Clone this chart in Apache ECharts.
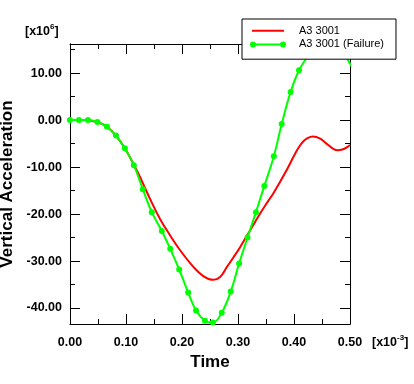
<!DOCTYPE html>
<html>
<head>
<meta charset="utf-8">
<script src="https://cdn.jsdelivr.net/npm/echarts@6/dist/echarts.min.js"></script>
<style>
html,body{margin:0;padding:0;background:#fff;}
#c{width:414px;height:384px;}
</style>
</head>
<body>
<div id="c"></div>
<script>
// Data (time in 1e-3 units, acceleration in 1e6 units)
const redTime  = [0, 0.02, 0.04, 0.05, 0.066, 0.082, 0.098, 0.114, 0.125, 0.143, 0.161, 0.178, 0.196, 0.220, 0.238, 0.256, 0.268, 0.280, 0.292, 0.304, 0.321, 0.339, 0.354, 0.363, 0.387, 0.400, 0.408, 0.416, 0.425, 0.434, 0.446, 0.458, 0.470, 0.479, 0.490, 0.500];
const redValue = [0, 0, -0.2, -0.45, -1.4, -3.3, -6.0, -9.5, -12.1, -16.8, -21.1, -24.4, -27.6, -31.2, -33.2, -34.0, -33.4, -31.3, -29.2, -27.0, -23.6, -20.0, -17.2, -15.6, -10.6, -7.6, -5.9, -4.6, -3.8, -3.5, -3.9, -5.0, -6.1, -6.4, -6.1, -5.3];
const greenTime  = [0, 0.016, 0.032, 0.049, 0.066, 0.082, 0.098, 0.114, 0.130, 0.146, 0.164, 0.179, 0.195, 0.211, 0.225, 0.241, 0.255, 0.271, 0.287, 0.302, 0.317, 0.332, 0.347, 0.364, 0.378, 0.394, 0.409, 0.425, 0.440, 0.456, 0.472, 0.488, 0.504];
const greenValue = [0, 0, 0, -0.4, -1.4, -3.3, -6.0, -9.6, -14.7, -19.6, -23.6, -27.4, -31.8, -36.7, -40.5, -42.7, -43.1, -41.0, -36.5, -30.5, -25.0, -19.6, -14.0, -7.7, -0.85, 6.0, 10.6, 13.6, 15.6, 16.4, 16.0, 14.2, 11.2];
const seriesNames = ['A3 3001', 'A3 3001 (Failure)'];
const yMajorTicks = [-40, -30, -20, -10, 0, 10];
const yMinorTicks = [-35, -25, -15, -5, 5, 15];
const xTickInterval = 0.1;

const FONT = 'Liberation Sans, Arial, Helvetica, sans-serif';
const yMin = -43.4, yMax = 16.2, xMin = 0, xMax = 0.5;
const zip = (a, b) => a.map((v, i) => (v > xMax
  ? {value: [v, b[i]], symbol: 'none', symbolSize: 0, itemStyle: {opacity: 0}}
  : [v, b[i]]));

function yAxisDef(pos, ticks, len, withLabel) {
  return {
    type: 'value', position: pos, min: yMin, max: yMax,
    axisLine: {show: true, onZero: false, lineStyle: {color: '#000', width: 1}},
    axisTick: {show: true, inside: true, length: len, customValues: ticks, lineStyle: {color: '#000', width: 1}},
    axisLabel: withLabel ? {show: true, customValues: yMajorTicks, margin: 8, color: '#000',
      fontFamily: FONT, fontWeight: 'bold', fontSize: 12.5,
      formatter: v => (Math.abs(v) < 1e-9 ? 0 : v).toFixed(2)} : {show: false},
    splitLine: {show: false},
    name: withLabel ? 'Vertical Acceleration' : '',
    nameLocation: 'middle', nameGap: 48,
    nameTextStyle: {color: '#000', fontFamily: FONT, fontWeight: 'bold', fontSize: 17}
  };
}
function xAxisDef(pos, withLabel) {
  return {
    type: 'value', position: pos, min: xMin, max: xMax, interval: xTickInterval,
    axisLine: {show: true, onZero: false, lineStyle: {color: '#000', width: 1}},
    axisTick: {show: true, inside: true, length: 10, lineStyle: {color: '#000', width: 1}},
    minorTick: {show: true, splitNumber: 2, length: 5, lineStyle: {color: '#000', width: 1}},
    axisLabel: withLabel ? {show: true, margin: 12, color: '#000', fontFamily: FONT, fontWeight: 'bold', fontSize: 12.5,
      formatter: v => v.toFixed(2)} : {show: false},
    splitLine: {show: false}, minorSplitLine: {show: false},
    name: withLabel ? 'Time' : '', nameLocation: 'middle', nameGap: 29,
    nameTextStyle: {color: '#000', fontFamily: FONT, fontWeight: 'bold', fontSize: 17}
  };
}

const greenIcon = 'path://M0,4 A3,3 0 1,1 6,4 A3,3 0 1,1 0,4 Z M3,3 L33,3 L33,5 L3,5 Z M30,4 A3,3 0 1,1 36,4 A3,3 0 1,1 30,4 Z';
const redIcon = 'path://M0,1 L0,1 M2,3 L34,3 L34,5 L2,5 Z M36,7 L36,7';

const chart = echarts.init(document.getElementById('c'), null, {renderer: 'canvas'});
chart.setOption({
  backgroundColor: '#fff',
  animation: false,
  grid: {left: 70, top: 44, right: 64, bottom: 60, containLabel: false, outerBoundsMode: 'none'},
  xAxis: [xAxisDef('bottom', true), xAxisDef('top', false)],
  yAxis: [yAxisDef('left', yMajorTicks, 10, true), yAxisDef('left', yMinorTicks, 5, false),
          yAxisDef('right', yMajorTicks, 10, false), yAxisDef('right', yMinorTicks, 5, false)],
  legend: {
    show: true, orient: 'vertical', left: 242, top: 19,
    backgroundColor: '#fff', borderColor: '#000', borderWidth: 1, borderRadius: 0,
    padding: [5, 12, 8, 8], itemGap: 0, itemWidth: 36, itemHeight: 6,
    itemStyle: {borderWidth: 0},
    textStyle: {color: '#000', fontFamily: FONT, fontSize: 11, lineHeight: 13.6, padding: [0, 0, 0, 8]},
    data: [{name: seriesNames[0], icon: redIcon}, {name: seriesNames[1], icon: greenIcon}]
  },
  graphic: [
    {type: 'text', left: 25, top: 23, z: 10, style: {
      text: '{m|[x10}{s|6}{m|]}', rich: {
        m: {fontFamily: FONT, fontWeight: 'bold', fontSize: 12.5, fill: '#000', lineHeight: 15, verticalAlign: 'bottom'},
        s: {fontFamily: FONT, fontWeight: 'bold', fontSize: 8, fill: '#000', lineHeight: 9, verticalAlign: 'top'}}}},
    {type: 'text', left: 372, top: 334, z: 10, style: {
      text: '{m|[x10}{s|-3}{m|]}', rich: {
        m: {fontFamily: FONT, fontWeight: 'bold', fontSize: 12.5, fill: '#000', lineHeight: 15, verticalAlign: 'bottom'},
        s: {fontFamily: FONT, fontWeight: 'bold', fontSize: 8, fill: '#000', lineHeight: 9, verticalAlign: 'top'}}}}
  ],
  series: [
    {name: seriesNames[0], type: 'line', data: zip(redTime, redValue), xAxisIndex: 0, yAxisIndex: 0,
     showSymbol: false, smooth: 0.4, clip: true, z: 2,
     itemStyle: {color: '#ff0000'}, lineStyle: {color: '#ff0000', width: 2}},
    {name: seriesNames[1], type: 'line', data: zip(greenTime, greenValue), xAxisIndex: 0, yAxisIndex: 0,
     showSymbol: true, symbol: 'circle', symbolSize: 6, showAllSymbol: true, smooth: 0.4, clip: true, z: 3,
     itemStyle: {color: '#00ff00', borderWidth: 0}, lineStyle: {color: '#00ff00', width: 2}}
  ]
});
</script>
</body>
</html>
